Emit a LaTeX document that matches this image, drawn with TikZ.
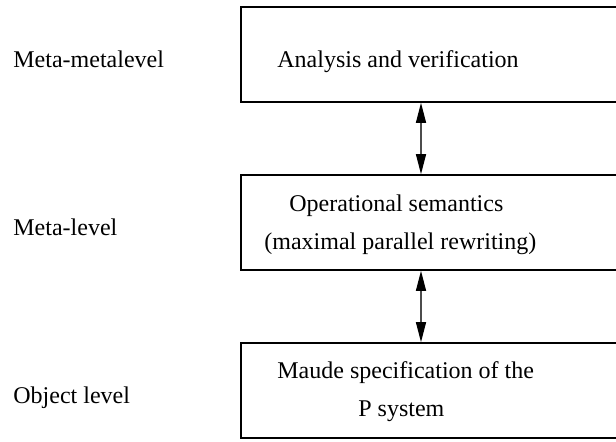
\documentclass[tikz,border=0pt]{standalone}
\usepackage{fontspec}
\setmainfont{Liberation Serif}
\usetikzlibrary{arrows.meta}
\begin{document}
\begin{tikzpicture}[x=0.5pt, y=-0.5pt,
    >={Triangle[length=10pt, width=5pt, color=black]},
    levelbox/.style={draw, line width=0.8pt, minimum width=191.5pt, minimum height=47.5pt},
    txt/.style={anchor=base west, inner sep=0pt, font=\fontsize{12}{14}\selectfont},
    link/.style={<->, line width=0.6pt, draw=black!70}]
    \useasboundingbox (0,0) rectangle (616,442);
    % the three levels
    \foreach \name/\y in {top/54.5, mid/222.5, bot/390.5}
    {
        \node[levelbox] (\name) at (432.5,\y) {};
    }
    \node[txt] (analysis) at (277,68) {Analysis and verification};
    \node[txt] (oper) at (289,212) {Operational semantics};
    \node[txt] (maxpar) at (264,250) {(maximal parallel rewriting)};
    \node[txt] (maude) at (277,379) {Maude specification of the};
    \node[txt] (psys) at (358,417) {P system};
    % names on the left
    \node[txt] (metameta) at (13,68) {Meta-metalevel};
    \node[txt] (meta) at (13,236) {Meta-level};
    \node[txt] (object) at (13,404) {Object level};
    % arrows
    \coordinate (ax) at (421,0);
    \draw[link] (top.south -| ax) -- (mid.north -| ax);
    \draw[link] (mid.south -| ax) -- (bot.north -| ax);
\end{tikzpicture}
\end{document}
